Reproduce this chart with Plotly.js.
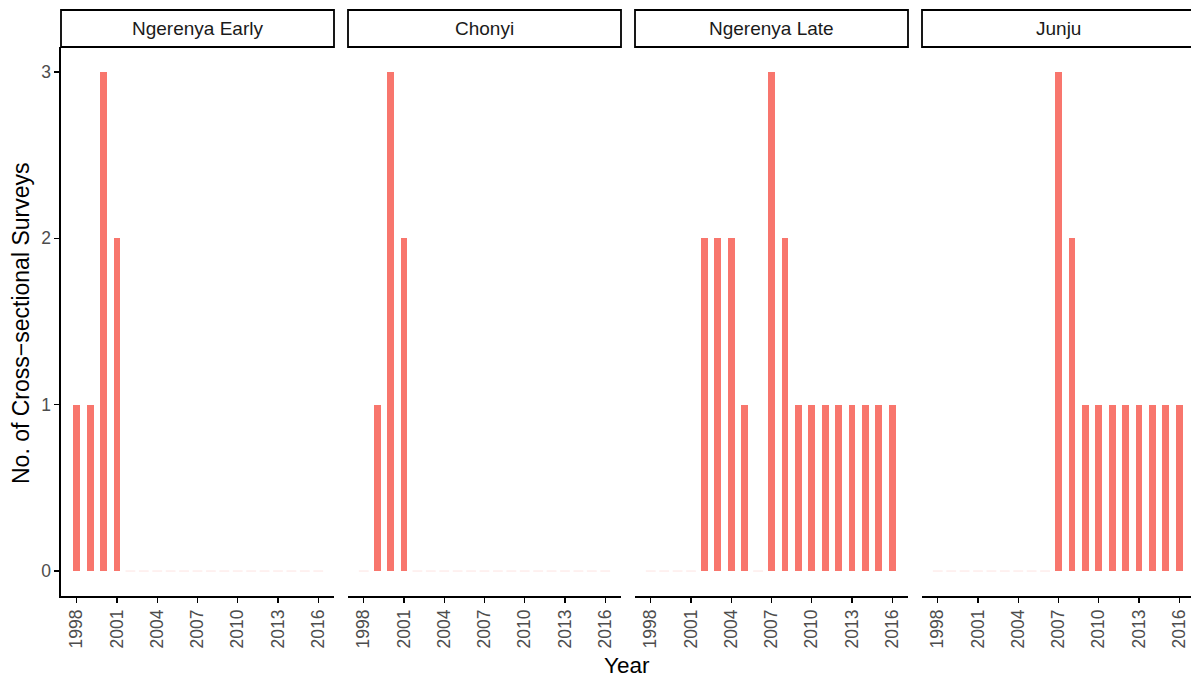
<!DOCTYPE html>
<html>
<head>
<meta charset="utf-8">
<script src="https://cdn.plot.ly/plotly-3.0.1.min.js"></script>
<style>
html,body{margin:0;padding:0;overflow:hidden;background:#fff;}
#chart{width:1196px;height:679px;}
</style>
</head>
<body>
<div id="chart"></div>
<script>
const years = [1998,1999,2000,2001,2002,2003,2004,2005,2006,2007,2008,2009,2010,2011,2012,2013,2014,2015,2016];
const panels = ["Ngerenya Early","Chonyi","Ngerenya Late","Junju"];
const ngerenyaEarly = [1,1,3,2,0,0,0,0,0,0,0,0,0,0,0,0,0,0,0];
const chonyi        = [0,1,3,2,0,0,0,0,0,0,0,0,0,0,0,0,0,0,0];
const ngerenyaLate  = [0,0,0,0,2,2,2,1,0,3,2,1,1,1,1,1,1,1,1];
const junju         = [0,0,0,0,0,0,0,0,0,3,2,1,1,1,1,1,1,1,1];
const xTicks = [1998,2001,2004,2007,2010,2013,2016];
const yTicks = [0,1,2,3];

const series = [ngerenyaEarly, chonyi, ngerenyaLate, junju];
const W = 1196, H = 679;
const L = 61, R = 1195, T = 47, B = 596;
const PW = R - L, PH = B - T;
const panelW = 273, gap = 14;
const barColor = '#F8766D';
const font = 'Liberation Sans, Arial, Helvetica, sans-serif';

const traces = [];
const layout = {
  width: W, height: H,
  margin: {l: L, r: W - R, t: T, b: H - B, pad: 0},
  paper_bgcolor: '#fff', plot_bgcolor: 'rgba(0,0,0,0)',
  showlegend: false,
  font: {family: font},
  bargap: 0,
  shapes: [], annotations: []
};

series.forEach((vals, i) => {
  const ax = i === 0 ? 'x' : 'x' + (i + 1);
  traces.push({
    type: 'bar', x: years, y: vals, width: 0.5,
    xaxis: ax, yaxis: 'y',
    marker: {color: barColor, line: {width: 0}},
    hoverinfo: 'x+y'
  });
  const zx = years.filter((y, k) => vals[k] === 0);
  traces.push({
    type: 'scatter', mode: 'markers', x: zx, y: zx.map(() => 0),
    xaxis: ax, yaxis: 'y',
    marker: {symbol: 'line-ew', size: 7, color: 'rgba(248,118,109,0.2)', line: {color: 'rgba(248,118,109,0.2)', width: 1}},
    hoverinfo: 'skip'
  });
  const x0 = i * (panelW + gap) / PW;
  const x1 = Math.min(1, (i * (panelW + gap) + panelW) / PW);
  layout[i === 0 ? 'xaxis' : 'xaxis' + (i + 1)] = {
    domain: [x0, x1], anchor: 'y',
    range: [1996.825, 2017.175],
    showgrid: false, zeroline: false,
    showline: true, linecolor: '#000', linewidth: 1.6,
    ticks: 'outside', ticklen: 5, tickwidth: 1.4, tickcolor: '#000',
    tickvals: xTicks, ticktext: xTicks.map(String), tickangle: -90,
    tickfont: {family: font, size: 17.5, color: '#4D4D4D'}
  };
  layout.shapes.push({
    type: 'rect', xref: 'paper', yref: 'paper',
    x0: x0, x1: x1, y0: 1, y1: 1 + 37 / PH,
    line: {color: '#000', width: 1.8}, fillcolor: '#fff', layer: 'above'
  });
  layout.annotations.push({
    xref: 'paper', yref: 'paper', x: (x0 + x1) / 2, y: 1 + 18.5 / PH,
    text: panels[i], showarrow: false, xanchor: 'center', yanchor: 'middle',
    font: {family: font, size: 19, color: '#1A1A1A'}
  });
});

layout.yaxis = {
  domain: [0, 1], anchor: 'x',
  range: [-0.15, 3.15],
  showgrid: false, zeroline: false,
  showline: true, linecolor: '#000', linewidth: 1.6,
  ticks: 'outside', ticklen: 5, tickwidth: 1.4, tickcolor: '#000',
  tickvals: yTicks, ticktext: yTicks.map(String),
  tickfont: {family: font, size: 17.5, color: '#4D4D4D'}
};

layout.annotations.push({
  xref: 'paper', yref: 'paper',
  x: (627 - L) / PW, y: -(665 - B) / PH,
  text: 'Year', showarrow: false, xanchor: 'center', yanchor: 'middle',
  font: {family: font, size: 22.5, color: '#000'}
});
layout.annotations.push({
  xref: 'paper', yref: 'paper',
  x: -(L - 21) / PW, y: (B - 323) / PH,
  text: 'No. of Cross\u2212sectional Surveys', showarrow: false, textangle: -90,
  xanchor: 'center', yanchor: 'middle',
  font: {family: font, size: 23, color: '#000'}
});

Plotly.newPlot('chart', traces, layout, {displayModeBar: false, staticPlot: true});
</script>
</body>
</html>
